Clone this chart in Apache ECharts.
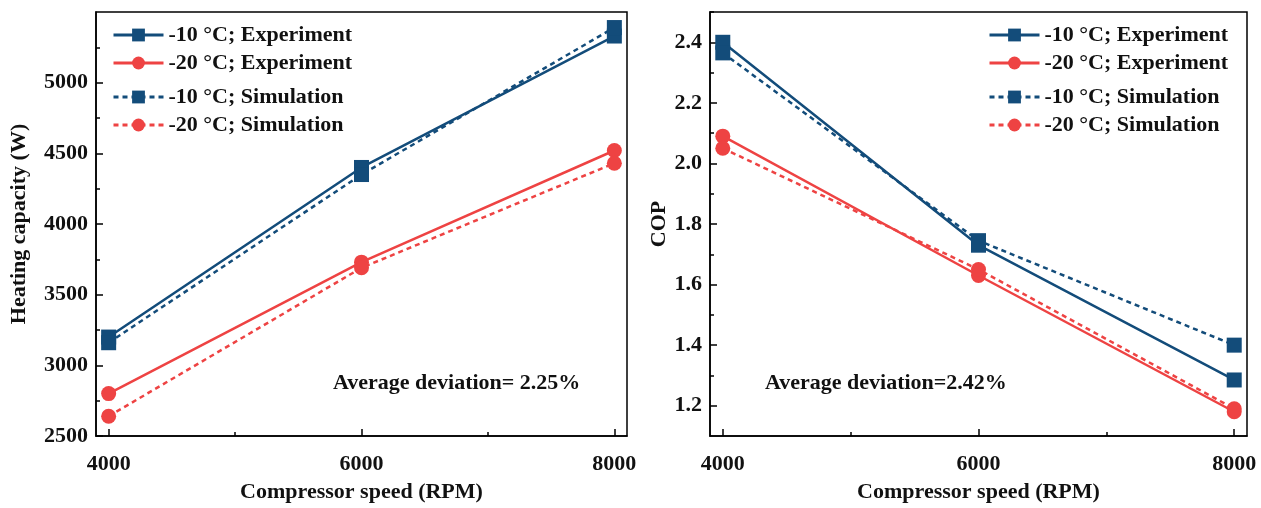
<!DOCTYPE html>
<html>
<head>
<meta charset="utf-8">
<script src="https://cdn.jsdelivr.net/npm/echarts@6/dist/echarts.min.js"></script>
<style>
  html, body { margin: 0; padding: 0; background: #fff; }
  #chart { width: 1261px; height: 508px; }
</style>
</head>
<body>
<div id="chart"></div>
<script>
// Compressor speed (RPM)
const rpm = [4000, 6000, 8000];

// Heating capacity (W)
const heatExp10 = [3200, 4400, 5330];
const heatExp20 = [2800, 3730, 4520];
const heatSim10 = [3160, 4350, 5390];
const heatSim20 = [2640, 3690, 4430];

// COP
const copExp10 = [2.40, 1.73, 1.285];
const copExp20 = [2.09, 1.63, 1.18];
const copSim10 = [2.365, 1.745, 1.40];
const copSim20 = [2.05, 1.65, 1.19];

// Tick values
const xMajor = [4000, 6000, 8000];
const xMinor = [5000, 7000];
const heatMajor = [2500, 3000, 3500, 4000, 4500, 5000];
const heatMinor = [2750, 3250, 3750, 4250, 4750, 5250];
const copMajor = [1.2, 1.4, 1.6, 1.8, 2.0, 2.2, 2.4];
const copMinor = [1.3, 1.5, 1.7, 1.9, 2.1, 2.3, 2.5];

const legendNames = ['-10 °C; Experiment', '-20 °C; Experiment', '-10 °C; Simulation', '-20 °C; Simulation'];
const noteLeft = 'Average deviation= 2.25%';
const noteRight = 'Average deviation=2.42%';

const BLUE = '#134c7a';
const RED = '#ee4343';
const FONT = '"Liberation Serif", "Times New Roman", serif';
const textBase = { fontFamily: FONT, fontWeight: 'bold', fontSize: 22, color: '#111' };

const pair = (xs, ys) => xs.map((x, i) => [x, ys[i]]);

function xAxisPair(gridIndex) {
  return [
    {
      type: 'value', gridIndex, min: 3900, max: 8100,
      name: 'Compressor speed (RPM)', nameLocation: 'middle', nameGap: 45,
      nameTextStyle: Object.assign({}, textBase),
      axisLine: { show: true, lineStyle: { color: '#000', width: 1.5 } },
      axisTick: { show: true, inside: true, length: 7, lineStyle: { color: '#000', width: 1.5 }, customValues: xMajor },
      axisLabel: Object.assign({ margin: 17, customValues: xMajor, formatter: v => String(v) }, textBase),
      splitLine: { show: false }
    },
    {
      type: 'value', gridIndex, min: 3900, max: 8100, position: 'bottom',
      axisLine: { show: false },
      axisTick: { show: true, inside: true, length: 4, lineStyle: { color: '#000', width: 1.5 }, customValues: xMinor },
      axisLabel: { show: false },
      splitLine: { show: false }
    }
  ];
}

function yAxisPair(gridIndex, min, max, major, minor, name, nameGap, fmt) {
  return [
    {
      type: 'value', gridIndex, min, max,
      name, nameLocation: 'middle', nameGap,
      nameTextStyle: Object.assign({}, textBase),
      axisLine: { show: true, lineStyle: { color: '#000', width: 1.5 } },
      axisTick: { show: true, inside: true, length: 7, lineStyle: { color: '#000', width: 1.5 }, customValues: major },
      axisLabel: Object.assign({ margin: 8, customValues: major, formatter: fmt }, textBase),
      splitLine: { show: false }
    },
    {
      type: 'value', gridIndex, min, max, position: 'left',
      axisLine: { show: false },
      axisTick: { show: true, inside: true, length: 4, lineStyle: { color: '#000', width: 1.5 }, customValues: minor },
      axisLabel: { show: false },
      splitLine: { show: false }
    }
  ];
}

function series(name, data, color, symbol, dashed, xi, yi) {
  return {
    name, type: 'line', data, xAxisIndex: xi, yAxisIndex: yi,
    symbol, symbolSize: 15,
    itemStyle: { color },
    lineStyle: { color, width: 2.5, type: dashed ? [5, 4] : 'solid' },
    z: dashed ? 3 : 2,
    animation: false
  };
}

function legendPair(xLeft) {
  const common = {
    orient: 'vertical', left: xLeft, padding: 0, itemWidth: 50, itemHeight: 16, itemGap: 6,
    lineStyle: { width: 3 },
    textStyle: Object.assign({}, textBase)
  };
  return [
    Object.assign({}, common, { top: 24, data: [legendNames[0], legendNames[1]] }),
    Object.assign({}, common, { top: 86, data: [legendNames[2], legendNames[3]] })
  ];
}

const xs = xAxisPair(0).concat(xAxisPair(1));
const ys = yAxisPair(0, 2500, 5500, heatMajor, heatMinor, 'Heating capacity (W)', 66, v => String(v))
  .concat(yAxisPair(1, 1.1, 2.5, copMajor, copMinor, 'COP', 40, v => v.toFixed(1)));

const option = {
  backgroundColor: '#fff',
  animation: false,
  grid: [
    { left: 96, top: 12, width: 531, height: 425, show: true, borderColor: '#000', borderWidth: 1.5, backgroundColor: 'transparent' },
    { left: 710, top: 12, width: 537, height: 425, show: true, borderColor: '#000', borderWidth: 1.5, backgroundColor: 'transparent' }
  ],
  xAxis: xs,
  yAxis: ys,
  legend: legendPair(112).concat(legendPair(988)),
  series: [
    series(legendNames[0], pair(rpm, heatExp10), BLUE, 'rect', false, 0, 0),
    series(legendNames[1], pair(rpm, heatExp20), RED, 'circle', false, 0, 0),
    series(legendNames[2], pair(rpm, heatSim10), BLUE, 'rect', true, 0, 0),
    series(legendNames[3], pair(rpm, heatSim20), RED, 'circle', true, 0, 0),
    series(legendNames[0], pair(rpm, copExp10), BLUE, 'rect', false, 2, 2),
    series(legendNames[1], pair(rpm, copExp20), RED, 'circle', false, 2, 2),
    series(legendNames[2], pair(rpm, copSim10), BLUE, 'rect', true, 2, 2),
    series(legendNames[3], pair(rpm, copSim20), RED, 'circle', true, 2, 2)
  ],
  graphic: [
    { type: 'text', left: 333, top: 372, style: { text: noteLeft, font: 'bold 22px ' + FONT, fill: '#111' } },
    { type: 'text', left: 765, top: 372, style: { text: noteRight, font: 'bold 22px ' + FONT, fill: '#111' } }
  ]
};

const chart = echarts.init(document.getElementById('chart'), null, { renderer: 'canvas' });
chart.setOption(option);
</script>
</body>
</html>
